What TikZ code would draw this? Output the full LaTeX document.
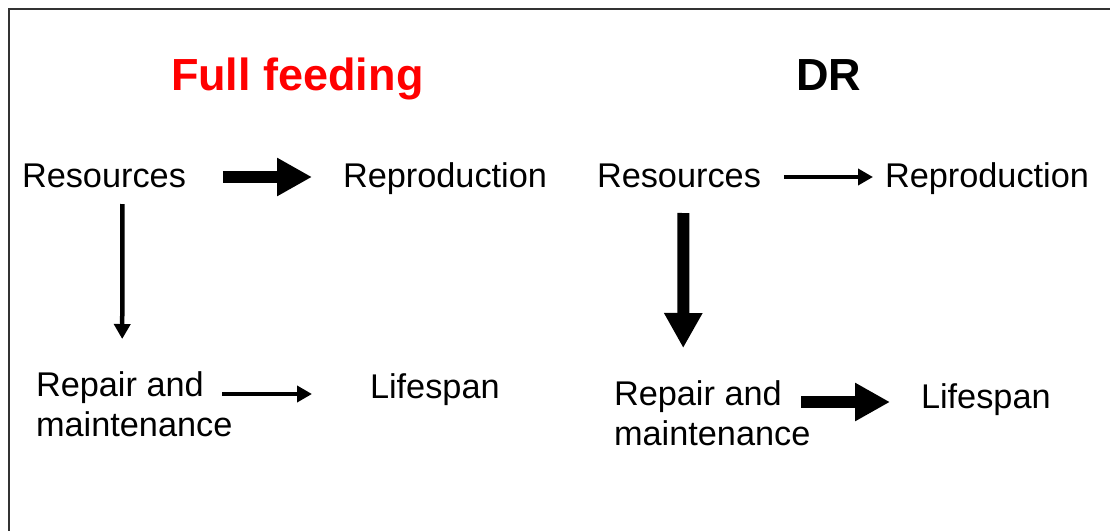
\documentclass[tikz,border=0pt]{standalone}
\usepackage{fontspec}
\setmainfont{Liberation Sans}
\usetikzlibrary{arrows.meta}
\definecolor{ffred}{RGB}{255,0,0}
\tikzset{
  lbl/.style={inner sep=0pt, outer sep=0pt, font=\fontsize{34.3}{40}\selectfont, text height=24pt, text depth=0pt},
  lbl2/.style={inner sep=0pt, outer sep=0pt, font=\fontsize{34.3}{40}\selectfont, align=left},
  ttl/.style={inner sep=0pt, outer sep=0pt, font=\fontsize{45}{54}\selectfont\bfseries},
  fatarrow/.style={line width=12pt, -{Triangle[length=35pt,width=36pt]}},
  thinarrow/.style={line width=4.5pt, -{Triangle[length=15pt,width=16pt]}},
}
\begin{document}
\begin{tikzpicture}[x=1pt,y=-1pt]
\useasboundingbox (0,0) rectangle (1110,530);
\begin{scope}
\clip (0,0) rectangle (1110,530);
\draw[line width=2.8pt, black!80] (9,9) rectangle (1200,600);
\end{scope}
% titles
\node[ttl, text=ffred, anchor=base west] (tfull) at (171,90) {Full feeding};
\node[ttl, anchor=base west] (tdr) at (796,90) {DR};
% left panel
\node[lbl, anchor=base west] (res1) at (22,187) {Resources};
\node[lbl, anchor=base west] (rep1) at (343,187) {Reproduction};
\node[lbl2, anchor=north west] (rm1) at (36,372) {Repair and\\maintenance};
\node[lbl, anchor=base west] (lif1) at (370,398) {Lifespan};
% right panel
\node[lbl, anchor=base west] (res2) at (597,187) {Resources};
\node[lbl, anchor=base west] (rep2) at (885,187) {Reproduction};
\node[lbl2, anchor=north west] (rm2) at (614,381) {Repair and\\maintenance};
\node[lbl, anchor=base west] (lif2) at (921,408) {Lifespan};
% arrows
\draw[fatarrow] ([xshift=37pt,yshift=-2pt]res1.east) -- ([xshift=-31pt,yshift=-2pt]rep1.west);
\draw[thinarrow] ([xshift=18.5pt,yshift=-17pt]res1.south) -- ([xshift=-12pt,yshift=33pt]rm1.north);
\draw[thinarrow] ([xshift=-10pt,yshift=-22pt]rm1.north east) -- ([xshift=-58pt,yshift=-8pt]lif1.west);
\draw[thinarrow] ([xshift=23pt,yshift=-2pt]res2.east) -- ([xshift=-12pt,yshift=-2pt]rep2.west);
\draw[fatarrow] ([xshift=4.5pt,yshift=-26pt]res2.south) -- ([xshift=-29pt,yshift=33pt]rm2.north);
\draw[fatarrow] ([xshift=-9pt,yshift=-21pt]rm2.north east) -- ([xshift=-31pt,yshift=-6pt]lif2.west);
\end{tikzpicture}
\end{document}
